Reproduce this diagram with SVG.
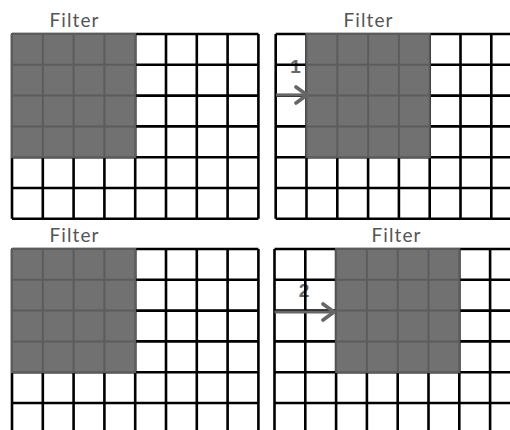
<svg xmlns="http://www.w3.org/2000/svg" width="510" height="430" viewBox="0 0 510 430">
<style>
.bg{fill:#ffffff}
.grid{fill:none;stroke:#000;stroke-width:2.6}
.shade{fill:#717171;stroke:#5c5c5c;stroke-width:2}
.title{font-family:Lato,"Open Sans","Liberation Sans",sans-serif;font-size:19px;fill:#555;text-anchor:middle}
.num{font-family:"Liberation Sans",sans-serif;font-weight:bold;font-size:19px;fill:#666;text-anchor:middle}
.arrow{fill:none;stroke:#666;stroke-width:3.2}
</style>
<defs>
<path id="gridlines" class="grid" d="M0,0V184.8M30.8,0V184.8M61.6,0V184.8M92.4,0V184.8M123.2,0V184.8M154,0V184.8M184.8,0V184.8M215.6,0V184.8M246.4,0V184.8M0,0H246.4M0,30.8H246.4M0,61.6H246.4M0,92.4H246.4M0,123.2H246.4M0,154H246.4M0,184.8H246.4"/>
<g id="filter">
<rect class="shade" x="0" y="0" width="123.2" height="123.2" stroke="none"/>
<path class="shade" fill="none" d="M30.8,0V123.2M61.6,0V123.2M92.4,0V123.2M0,30.8H123.2M0,61.6H123.2M0,92.4H123.2"/>
</g>
<marker id="head" markerUnits="userSpaceOnUse" markerWidth="20" markerHeight="22" refX="13" refY="9" orient="auto" viewBox="0 0 20 18">
<path d="M2,1 L13,9 L2,17" fill="none" stroke="#666" stroke-width="3.6" stroke-linecap="round" stroke-linejoin="round"/>
</marker>
</defs>
<rect class="bg" x="0" y="0" width="510" height="430"/>
<g id="panel-top-left">
<text class="title" x="74" y="27" textLength="49">Filter</text>
<use href="#gridlines" x="12" y="34"/>
<use href="#filter" x="12" y="34"/>
</g>
<g id="panel-top-right">
<text class="title" x="368" y="27" textLength="49">Filter</text>
<text class="num" x="295.5" y="73">1</text>
<use href="#gridlines" x="275.7" y="34"/>
<use href="#filter" x="306.5" y="34"/>
</g>
<g id="panel-bottom-left">
<text class="title" x="74" y="242" textLength="49">Filter</text>
<use href="#gridlines" x="12" y="249"/>
<use href="#filter" x="12" y="249"/>
</g>
<g id="panel-bottom-right">
<text class="title" x="396" y="242" textLength="49">Filter</text>
<text class="num" x="304" y="297">2</text>
<use href="#gridlines" x="274.5" y="249"/>
<use href="#filter" x="336.1" y="249"/>
</g>
<g id="connectors">
<path class="arrow" d="M276,95H307" marker-end="url(#head)"/>
<path class="arrow" d="M274.5,312H334" marker-end="url(#head)"/>
</g>
</svg>
